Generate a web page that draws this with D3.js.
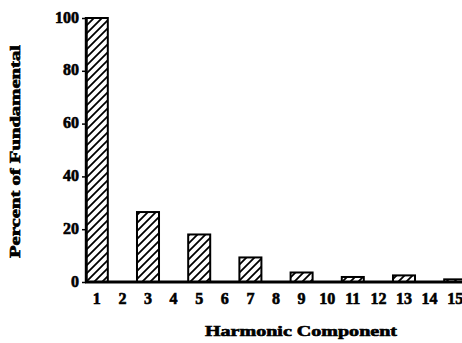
<!DOCTYPE html>
<html>
<head>
<meta charset="utf-8">
<script src="https://cdn.jsdelivr.net/npm/d3@7/dist/d3.min.js"></script>
<style>
  html, body { margin: 0; padding: 0; background: #fff; }
  svg { display: block; }
  text { font-family: "Liberation Serif", "Times New Roman", serif; font-weight: bold; fill: #000; }
</style>
</head>
<body>
<svg id="chart" width="462" height="343"></svg>
<script>
// Harmonic spectrum: amplitude of each harmonic as a percent of the fundamental
const harmonics = [1, 2, 3, 4, 5, 6, 7, 8, 9, 10, 11, 12, 13, 14, 15];
const percent   = [100, 0, 26.5, 0, 18, 0, 9.3, 0, 3.6, 0, 1.9, 0, 2.5, 0, 1];
const yTicks    = [0, 20, 40, 60, 80, 100];

const svg = d3.select("#chart");

const x = d3.scaleBand()
  .domain(harmonics)
  .range([84, 468])
  .paddingInner(0.14)
  .paddingOuter(0.07);

const y = d3.scaleLinear()
  .domain([0, 100])
  .range([282, 18]);

// Diagonal hatch fill for the bars
const defs = svg.append("defs");
defs.append("pattern")
  .attr("id", "hatch")
  .attr("patternUnits", "userSpaceOnUse")
  .attr("width", 8)
  .attr("height", 8)
  .append("path")
  .attr("d", "M-2,2 l4,-4 M0,8 l8,-8 M6,10 l4,-4")
  .attr("stroke", "#000")
  .attr("stroke-width", 1.8);

// Bars (only non-zero harmonics are drawn)
svg.append("g")
  .selectAll("rect")
  .data(harmonics.map((h, i) => ({ h, v: percent[i] })).filter(d => d.v > 0))
  .join("rect")
  .attr("x", d => x(d.h))
  .attr("y", d => y(d.v))
  .attr("width", x.bandwidth())
  .attr("height", d => y(0) - y(d.v))
  .attr("fill", "url(#hatch)")
  .attr("stroke", "#000")
  .attr("stroke-width", 2);

// Heavy print look for all labels
const heavy = sel => sel
  .style("font-family", "'Liberation Serif', serif")
  .style("font-weight", "bold")
  .attr("stroke", "#000")
  .attr("stroke-width", 0.6);

// Y axis
const yAxis = svg.append("g")
  .attr("transform", "translate(86,0)")
  .call(d3.axisLeft(y).tickValues(yTicks).tickSize(4).tickSizeOuter(0));
yAxis.select(".domain").attr("stroke-width", 2.5);
yAxis.selectAll(".tick line").attr("stroke-width", 1.5);
yAxis.selectAll(".tick text")
  .attr("x", -7)
  .attr("dy", "0.25em")
  .style("font-size", "16px")
  .call(heavy);

// X axis: labels only, with a heavy baseline running to the edge
const xAxis = svg.append("g")
  .attr("transform", "translate(0,282)")
  .call(d3.axisBottom(x).tickSize(0).tickSizeOuter(0));
xAxis.select(".domain").remove();
xAxis.selectAll(".tick text")
  .attr("dy", "1.2em")
  .style("font-size", "16px")
  .call(heavy);

svg.append("line")
  .attr("x1", 85).attr("x2", 462)
  .attr("y1", y(0)).attr("y2", y(0))
  .attr("stroke", "#000")
  .attr("stroke-width", 3);

// Axis titles (wide, heavy lettering)
svg.append("text")
  .attr("x", 205)
  .attr("y", 336)
  .attr("textLength", 192)
  .attr("lengthAdjust", "spacingAndGlyphs")
  .style("font-size", "14px")
  .call(heavy)
  .text("Harmonic Component");

svg.append("text")
  .attr("transform", "translate(20,258) rotate(-90)")
  .attr("textLength", 213)
  .attr("lengthAdjust", "spacingAndGlyphs")
  .style("font-size", "14px")
  .call(heavy)
  .text("Percent of Fundamental");
</script>
</body>
</html>
